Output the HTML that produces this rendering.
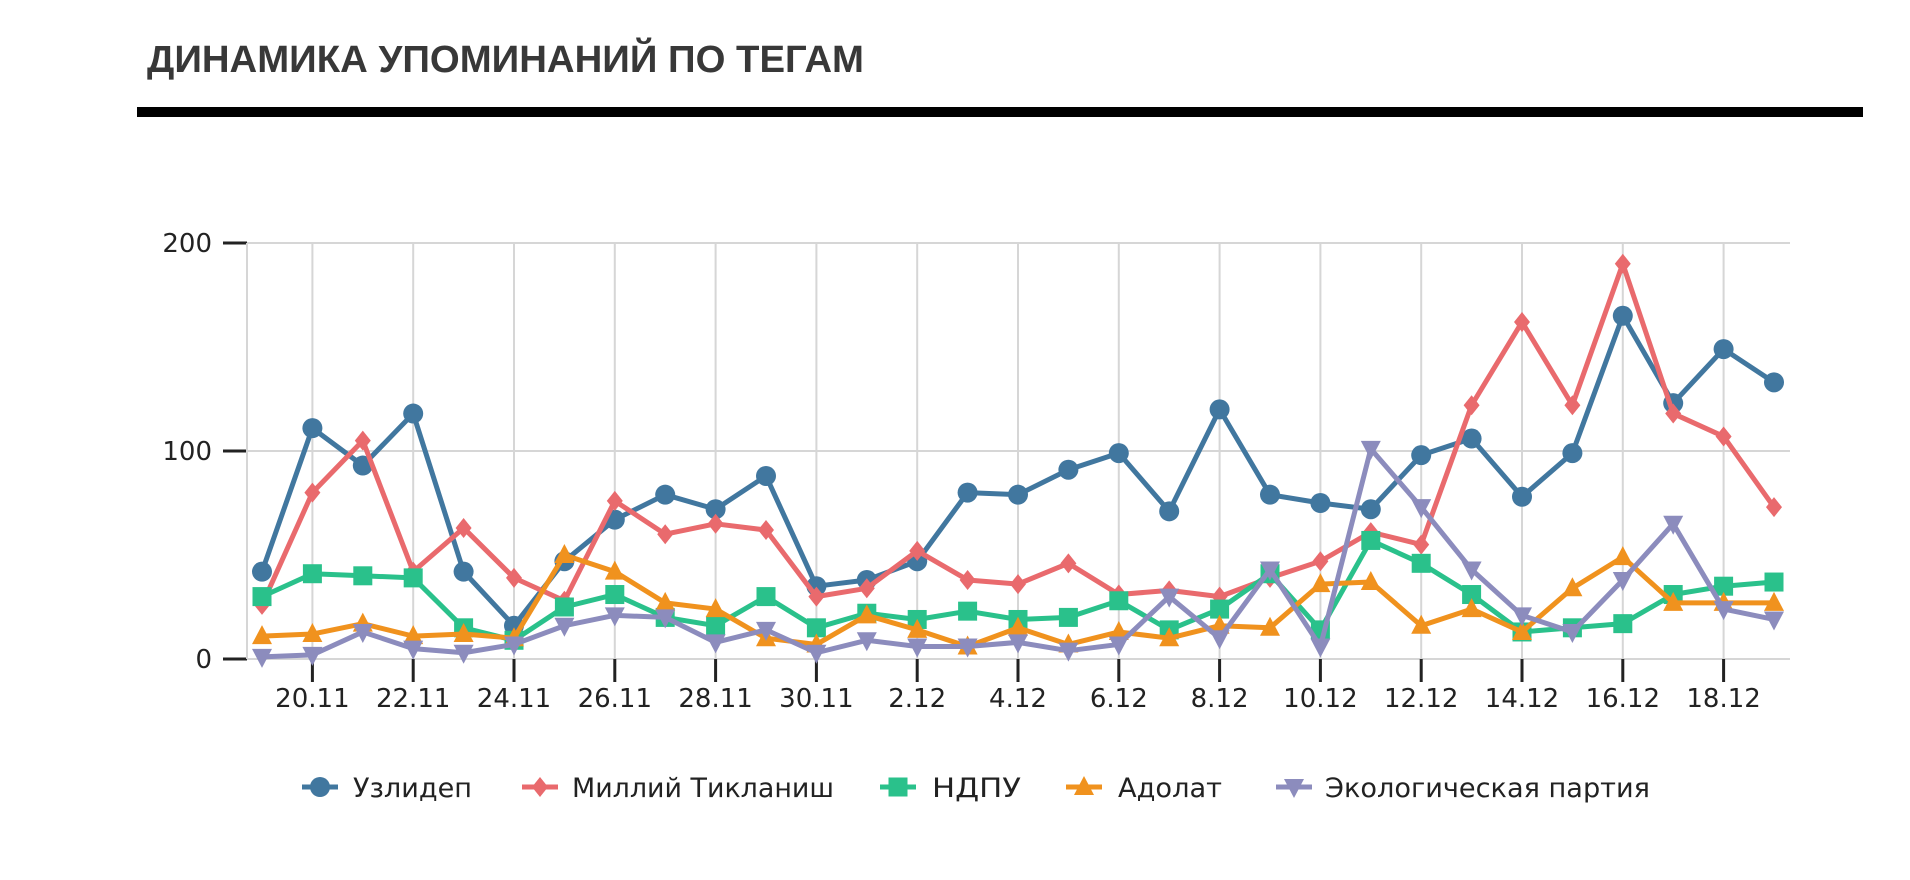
<!DOCTYPE html>
<html><head><meta charset="utf-8"><style>
html,body{margin:0;padding:0;background:#fff;width:1910px;height:880px;overflow:hidden}
</style></head><body>
<svg id="s" width="1910" height="880" xmlns="http://www.w3.org/2000/svg" style="position:absolute;left:0;top:0">
<text x="147" y="72" font-family="Liberation Sans, sans-serif" font-weight="bold" font-size="38" fill="#383838" textLength="717" lengthAdjust="spacingAndGlyphs">ДИНАМИКА УПОМИНАНИЙ ПО ТЕГАМ</text>
<rect x="137" y="107" width="1726" height="10" fill="#000"/>
<g id="g"></g>
</svg>
<script>
var g=document.getElementById('g'),h='';
function X(i){return 262+50.4*i}
function Y(v){return 659-v*2.08}
for(var v=0;v<=200;v+=100){h+='<line x1="247" x2="1790" y1="'+Y(v)+'" y2="'+Y(v)+'" stroke="#d6d6d6" stroke-width="2"/>';
h+='<line x1="223" x2="247" y1="'+Y(v)+'" y2="'+Y(v)+'" stroke="#222" stroke-width="3"/>';
h+='<text x="212" y="'+(Y(v)+9)+'" text-anchor="end" font-family="DejaVu Sans, sans-serif" font-size="26" fill="#222">'+v+'</text>';}
h+='<line x1="247" x2="247" y1="243" y2="659" stroke="#d6d6d6" stroke-width="2"/>';
var labs=['20.11','22.11','24.11','26.11','28.11','30.11','2.12','4.12','6.12','8.12','10.12','12.12','14.12','16.12','18.12'];
for(var k=0;k<15;k++){var x=X(1+2*k);
h+='<line x1="'+x+'" x2="'+x+'" y1="243" y2="659" stroke="#d6d6d6" stroke-width="2"/>';
h+='<line x1="'+x+'" x2="'+x+'" y1="659" y2="682" stroke="#222" stroke-width="3"/>';
h+='<text x="'+x+'" y="707" text-anchor="middle" font-family="DejaVu Sans, sans-serif" font-size="26" fill="#222">'+labs[k]+'</text>';}
var S=[
['#41779f','c',[42,111,93,118,42,16,47,67,79,72,88,35,38,47,80,79,91,99,71,120,79,75,72,98,106,78,99,165,123,149,133]],
['#e96a6d','d',[26,80,105,42,63,39,28,76,60,65,62,30,34,52,38,36,46,31,33,30,39,47,61,55,122,162,122,190,118,107,73]],
['#2ac18b','s',[30,41,40,39,15,9,25,31,20,16,30,15,22,19,23,19,20,28,14,24,41,14,57,46,31,13,15,17,31,35,37]],
['#f0921e','t',[11,12,17,11,12,10,50,42,27,24,10,7,21,14,6,15,7,13,10,16,15,36,37,16,24,13,34,49,27,27,27]],
['#8c8cbd','v',[1,2,13,5,3,7,16,21,20,8,14,3,9,6,6,8,4,7,30,10,43,6,101,73,43,21,13,38,65,24,19]]];
function mk(t,x,y,c){
 if(t=='c')return '<circle cx="'+x+'" cy="'+y+'" r="10" fill="'+c+'"/>';
 if(t=='s')return '<rect x="'+(x-9.5)+'" y="'+(y-9.5)+'" width="19" height="19" fill="'+c+'"/>';
 if(t=='d')return '<polygon points="'+x+','+(y-10)+' '+(x+8)+','+y+' '+x+','+(y+10)+' '+(x-8)+','+y+'" fill="'+c+'"/>';
 if(t=='t')return '<polygon points="'+x+','+(y-11)+' '+(x+10)+','+(y+8)+' '+(x-10)+','+(y+8)+'" fill="'+c+'"/>';
 return '<polygon points="'+x+','+(y+11)+' '+(x+10)+','+(y-8)+' '+(x-10)+','+(y-8)+'" fill="'+c+'"/>';}
S.forEach(function(s){var p=s[2].map(function(v,i){return X(i)+','+Y(v)}).join(' ');
 h+='<polyline points="'+p+'" fill="none" stroke="'+s[0]+'" stroke-width="5" stroke-linejoin="round"/>';
 s[2].forEach(function(v,i){h+=mk(s[1],X(i),Y(v),s[0]);});});
var L=[[320,353,'Узлидеп',119],[540,572,'Миллий Тикланиш',262],[898,932,'НДПУ',89],[1084,1118,'Адолат',104],[1294,1325,'Экологическая партия',325]];
L.forEach(function(l,i){var c=S[i][0];
 h+='<line x1="'+(l[0]-18)+'" x2="'+(l[0]+18)+'" y1="787" y2="787" stroke="'+c+'" stroke-width="5"/>'+mk(S[i][1],l[0],787,c);
 h+='<text x="'+l[1]+'" y="797" font-family="DejaVu Sans, sans-serif" font-size="27" fill="#222" textLength="'+l[3]+'" lengthAdjust="spacingAndGlyphs">'+l[2]+'</text>';});
g.innerHTML=h;
</script>
</body></html>
